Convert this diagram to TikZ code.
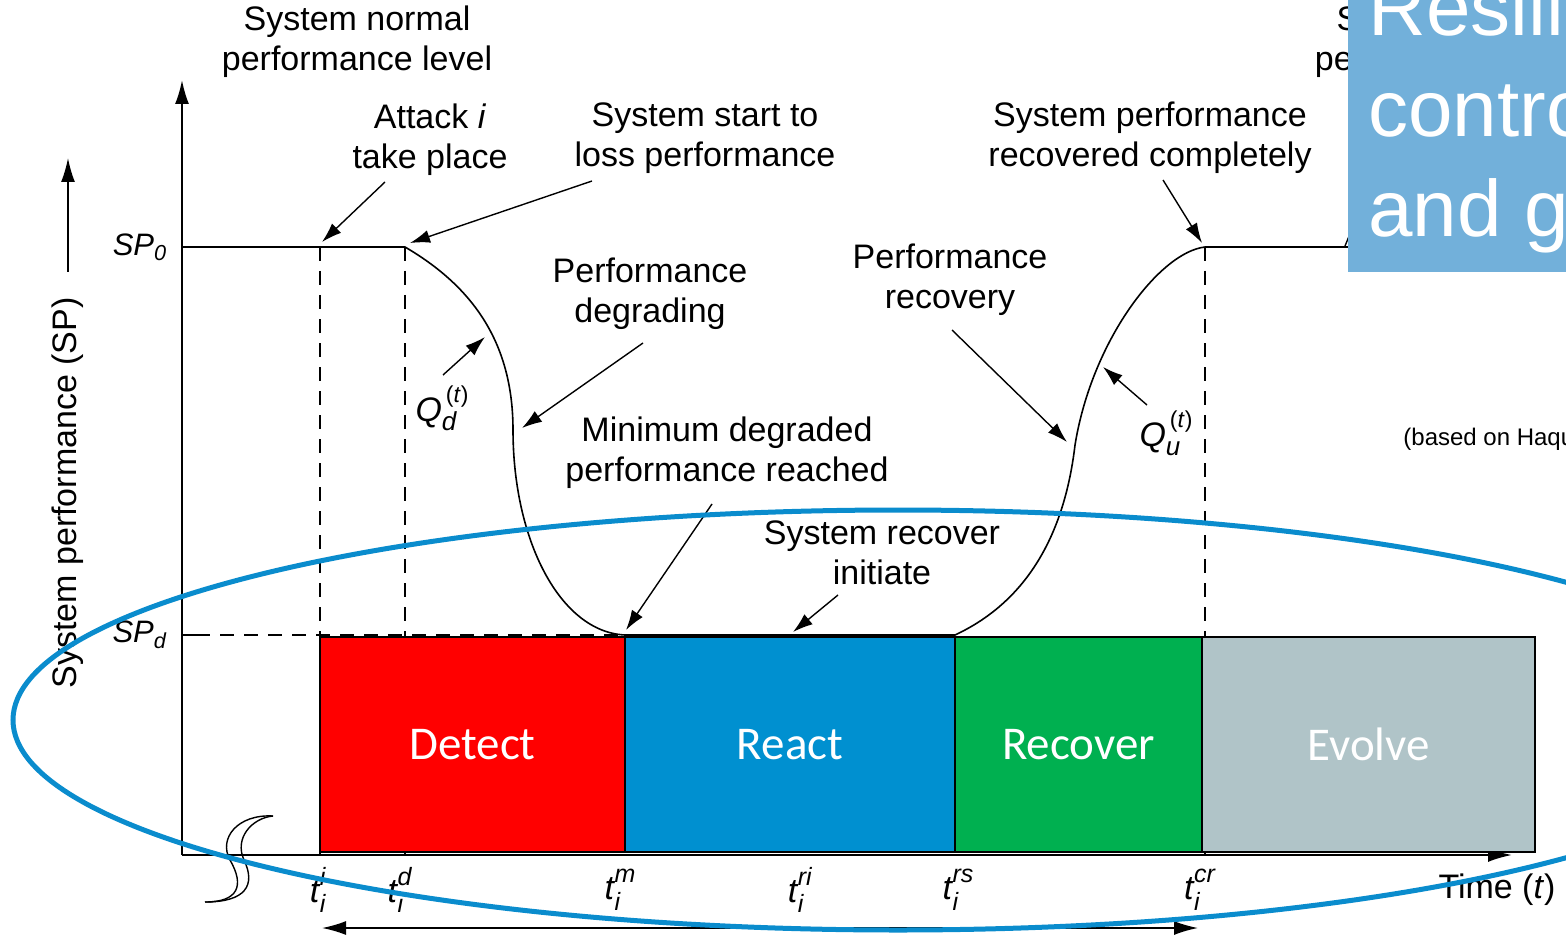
\documentclass[tikz,border=0pt]{standalone}
\usepackage{fontspec}
\setmainfont{Liberation Sans}
\newfontfamily\calibri{Carlito}
\usetikzlibrary{arrows.meta}

\definecolor{detectred}{RGB}{255,0,0}
\definecolor{reactblue}{RGB}{0,144,208}
\definecolor{recovergreen}{RGB}{0,176,80}
\definecolor{evolvegray}{RGB}{176,196,200}
\definecolor{ringblue}{RGB}{10,140,205}
\definecolor{titleblue}{RGB}{114,176,218}

% time mark t with subscript i and a superscript tag
\newcommand{\tmark}[1]{\textit{t}\kern-0.3pt\rlap{\raisebox{-0.6ex}{\fontsize{12.5}{12.5}\selectfont\textit{i}}}\raisebox{0.95ex}{\fontsize{12.5}{12.5}\selectfont\textit{#1}}}
% performance rate Q with a subscript
\newcommand{\qrate}[1]{\textit{Q}\rlap{\raisebox{-0.5ex}{\fontsize{13}{13}\selectfont\textit{#1}}}\kern2pt\raisebox{1.05ex}{\fontsize{11.5}{11.5}\selectfont(\textit{t})}}

\begin{document}
\begin{tikzpicture}[x=0.5pt,y=-0.5pt,
  note/.style={align=center,font=\fontsize{17}{20}\selectfont,inner sep=0pt},
  arr/.style={-{Latex[length=10pt,width=6.5pt]},line width=0.7pt},
  axisline/.style={line width=1pt},
  guide/.style={dash pattern=on 7pt off 5pt,line width=0.8pt},
  phase/.style={draw=black,line width=0.8pt,text=white,inner sep=0pt,outer sep=0pt,
    minimum height=107.5pt,font=\calibri\fontsize{23.5}{28}\selectfont},
  tl/.style={inner sep=0pt,font=\fontsize{17}{20}\selectfont},
  sym/.style={inner sep=0pt,font=\fontsize{15.5}{18}\selectfont}]

\useasboundingbox (0,0) rectangle (1566,935);

% key points of the performance curve
\coordinate (origin) at (182,855);
\coordinate (ytip) at (182,80);
\coordinate (xtip) at (1512,855);
\coordinate (sp0) at (182,247);
\coordinate (spd) at (182,635);
\coordinate (spdtick) at (196,635);
\coordinate (attack) at (320,247);
\coordinate (drop) at (405,247);
\coordinate (lowl) at (625,635);
\coordinate (lowr) at (955,635);
\coordinate (back) at (1205,247);
\coordinate (sp0end) at (1348,247);
\coordinate (attackbase) at (320,855);
\coordinate (dropbase) at (405,855);
\coordinate (backbase) at (1205,855);

% dashed guide lines
\draw[guide] (attack) -- (attackbase);
\draw[guide] (drop) -- (dropbase);
\draw[guide] (back) -- (backbase);
\draw[axisline] (spd) -- (spdtick);
\draw[guide] (spdtick) -- (lowl);

% system performance curve
\draw[line width=0.8pt] (sp0) -- (drop)
  .. controls (470,285) and (513,340) .. (513,430)
  .. controls (513,540) and (560,632) .. (lowl) -- (lowr)
  .. controls (1030,600) and (1065,530) .. (1075,445)
  .. controls (1092,340) and (1160,252) .. (back) -- (sp0end);

% axes
\draw[axisline,-{Latex[length=12pt,width=7pt]}] (origin) -- (ytip);
\draw[axisline,-{Latex[length=12pt,width=7pt]}] (origin) -- (xtip);

% axis break mark
\coordinate (brk1) at (273,816);
\coordinate (brk2) at (205,902);
\draw[line width=0.7pt] (brk1) .. controls (238,814) and (218,838) .. (230,860)
  .. controls (245,886) and (238,902) .. (brk2);
\draw[line width=0.7pt] (brk1) .. controls (252,818) and (234,838) .. (244,860)
  .. controls (256,885) and (246,902) .. (brk2);

% phase boxes
\node[phase,fill=detectred,minimum width=152.5pt] (detect) at (472.5,744.5) {Detect};
\node[phase,fill=reactblue,minimum width=165pt] (react) at (790,744.5) {React};
\node[phase,fill=recovergreen,minimum width=123.5pt] (recover) at (1078.5,744.5) {Recover};
\node[phase,fill=evolvegray,minimum width=166.5pt] (evolve) at (1368.5,744.5) {Evolve};

% axis labels
\node[sym] (lsp0) at (140,247) {\textit{SP}\textsubscript{\textit{0}}};
\node[sym] (lspd) at (140,635) {\textit{SP}\textsubscript{\textit{d}}};
\node[note,rotate=90] (ylabel) at (68,493) {System performance (SP)};
\coordinate (yarr-a) at (68,272);
\coordinate (yarr-b) at (68,158);
\draw[-{Latex[length=12pt,width=7pt]},line width=0.8pt] (yarr-a) -- (yarr-b);

\node[tl] (t-i) at (318,890) {\tmark{i}};
\node[tl] (t-d) at (400,890) {\tmark{d}};
\node[tl] (t-m) at (620,890) {\tmark{m}};
\node[tl] (t-ri) at (800,890) {\tmark{ri}};
\node[tl] (t-rs) at (958,890) {\tmark{rs}};
\node[tl] (t-cr) at (1200,890) {\tmark{cr}};
\node[tl] (time) at (1497,890) {Time (\textit{t})};

\coordinate (span-a) at (322,928);
\coordinate (span-b) at (1198,928);
\draw[{Latex[length=12pt,width=7pt]}-{Latex[length=12pt,width=7pt]},line width=0.8pt] (span-a) -- (span-b);

% annotations
\node[note] (normal) at (357,42) {System normal\\performance level};
\node[note] (attacknote) at (430,140) {Attack \textit{i}\\take place};
\node[note] (lossnote) at (705,138) {System start to\\loss performance};
\node[note] (degnote) at (650,294) {Performance\\degrading};
\node[note] (minnote) at (727,453) {Minimum degraded\\performance reached};
\node[note] (initnote) at (882,553) {System recover\\initiate};
\node[note] (recnote) at (950,280) {Performance\\recovery};
\node[note] (fullnote) at (1150,138) {System performance\\recovered completely};
\node[note] (normal2) at (1450,42) {System normal\\performance level};
\node[sym,font=\fontsize{17}{19}\selectfont] (qd) at (442,408) {\qrate{d}};
\node[sym,font=\fontsize{17}{19}\selectfont] (qu) at (1166,433) {\qrate{u}};
\node[inner sep=0pt,anchor=base west,font=\fontsize{12}{14}\selectfont] (source) at (1403,445) {(based on Haque};

\coordinate (at-a) at (385,182);  \coordinate (at-b) at (322,242);
\coordinate (sl-a) at (592,181);  \coordinate (sl-b) at (410,243);
\coordinate (dg-a) at (643,343);  \coordinate (dg-b) at (522,428);
\coordinate (qd-a) at (443,375);  \coordinate (qd-b) at (485,337);
\coordinate (mn-a) at (712,504);  \coordinate (mn-b) at (626,630);
\coordinate (ri-a) at (838,595);  \coordinate (ri-b) at (793,632);
\coordinate (rc-a) at (952,330);  \coordinate (rc-b) at (1067,442);
\coordinate (qu-a) at (1147,405); \coordinate (qu-b) at (1103,367);
\coordinate (cc-a) at (1163,180); \coordinate (cc-b) at (1202,243);
\coordinate (nr-a) at (1372,180); \coordinate (nr-b) at (1345,246);

\draw[arr] (at-a) -- (at-b);
\draw[arr] (sl-a) -- (sl-b);
\draw[arr] (dg-a) -- (dg-b);
\draw[arr] (qd-a) -- (qd-b);
\draw[arr] (mn-a) -- (mn-b);
\draw[arr] (ri-a) -- (ri-b);
\draw[arr] (rc-a) -- (rc-b);
\draw[arr] (qu-a) -- (qu-b);
\draw[arr] (cc-a) -- (cc-b);
\draw[line width=0.7pt] (nr-a) -- (nr-b);

% highlight ring round the phases
\draw[ringblue,line width=2.5pt] (898,720) ellipse [x radius=442.5pt, y radius=105pt];

% title panel
\fill[titleblue] (1348,0) rectangle (1566,272);
\begin{scope}
  \clip (1348,0) rectangle (1566,272);
  \node[anchor=base west,inner sep=0pt,text=white,font=\fontsize{40}{50}\selectfont] (title1) at (1368,36) {Resilience};
  \node[anchor=base west,inner sep=0pt,text=white,font=\fontsize{40}{50}\selectfont] (title2) at (1368,137) {controls};
  \node[anchor=base west,inner sep=0pt,text=white,font=\fontsize{40}{50}\selectfont] (title3) at (1368,237) {and governance};
\end{scope}
\end{tikzpicture}
\end{document}
